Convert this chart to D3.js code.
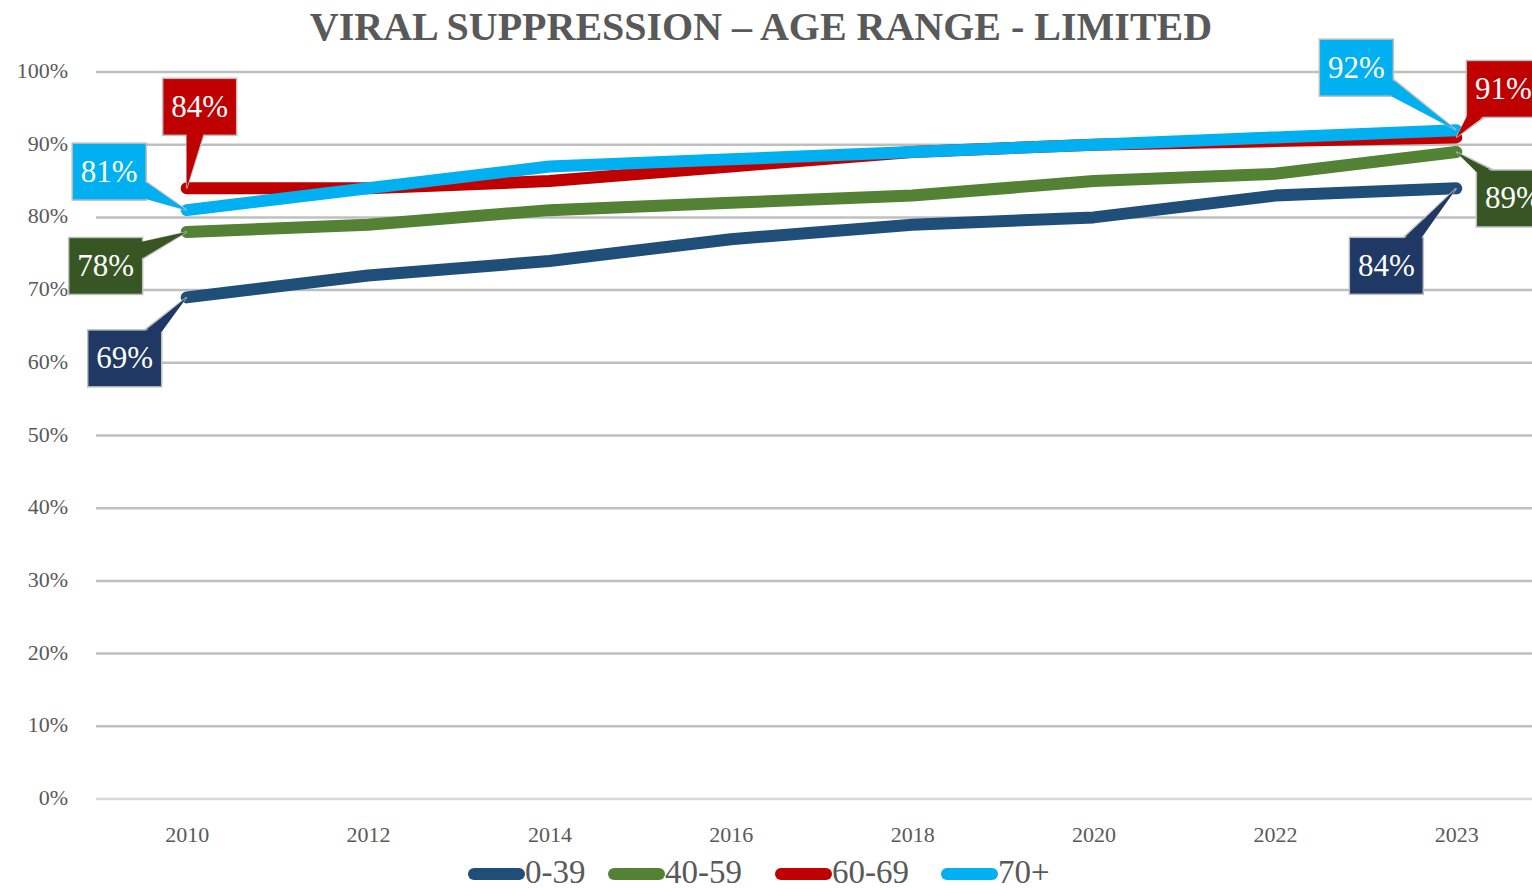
<!DOCTYPE html>
<html>
<head>
<meta charset="utf-8">
<script src="https://cdn.jsdelivr.net/npm/d3@7"></script>
<style>
  html, body { margin: 0; padding: 0; background: #fff; overflow: hidden; }
  svg { display: block; font-family: "Liberation Serif", "DejaVu Serif", serif; }
</style>
</head>
<body>
<div id="chart"></div>
<script>
// Chart data
const years = ["2010", "2012", "2014", "2016", "2018", "2020", "2022", "2023"];
const seriesNames = ["0-39", "40-59", "60-69", "70+"];
const age0to39 = [0.69, 0.72, 0.74, 0.77, 0.79, 0.80, 0.83, 0.84];
const age40to59 = [0.78, 0.79, 0.81, 0.82, 0.83, 0.85, 0.86, 0.89];
const age60to69 = [0.84, 0.84, 0.85, 0.87, 0.89, 0.90, 0.905, 0.91];
const age70plus = [0.81, 0.84, 0.87, 0.88, 0.89, 0.90, 0.91, 0.92];
const yTicks = [0, 0.1, 0.2, 0.3, 0.4, 0.5, 0.6, 0.7, 0.8, 0.9, 1.0];

const seriesValues = [age0to39, age40to59, age60to69, age70plus];

// Styling
const lineColors = ["#1F4E79", "#548235", "#C00000", "#00B0F0"];
const labelColors = ["#203864", "#375623", "#C00000", "#00B0F0"];
const textGray = "#595959";

// Label placement (box centre offset from the data point), first and last points only
const labelOffsets = [
    { first: [-62, 61], last: [-70, 77.5] },
    { first: [-81, 34], last: [57, 46.5] },
    { first: [13, -81.5], last: [47, -48.5] },
    { first: [-77.5, -38.5], last: [-100, -62.5] }
];

const width = 1532, height = 888;
const plot = { left: 96, right: 1547, top: 72, bottom: 799 };

const svg = d3.select("#chart").append("svg")
    .attr("width", width).attr("height", height);

const x = d3.scalePoint().domain(years).range([plot.left, plot.right]).padding(0.5);
const y = d3.scaleLinear().domain([0, 1]).range([plot.bottom, plot.top]);

// Title
svg.append("text")
    .attr("x", 761).attr("y", 40)
    .attr("text-anchor", "middle")
    .attr("fill", textGray)
    .attr("font-size", 40)
    .attr("font-weight", "bold")
    .text("VIRAL SUPPRESSION – AGE RANGE - LIMITED");

// Gridlines
svg.append("g").selectAll("line").data(yTicks).enter().append("line")
    .attr("x1", plot.left).attr("x2", width)
    .attr("y1", d => y(d)).attr("y2", d => y(d))
    .attr("stroke", d => d === 0 ? "#D9D9D9" : "#BFBFBF")
    .attr("stroke-width", 2.5);

// Y axis labels
const yAxis = d3.axisLeft(y).tickValues(yTicks).tickFormat(d3.format(".0%")).tickSize(0).tickPadding(0);
const yg = svg.append("g").attr("transform", "translate(68,0)").call(yAxis);
yg.select(".domain").remove();
yg.selectAll("text").attr("font-size", 22).attr("fill", textGray)
    .attr("font-family", "Liberation Serif, serif").attr("dy", "0.25em");

// X axis labels
const xAxis = d3.axisBottom(x).tickSize(0).tickPadding(0);
const xg = svg.append("g").attr("transform", "translate(0,842)").call(xAxis);
xg.select(".domain").remove();
xg.selectAll("text").attr("font-size", 22).attr("fill", textGray)
    .attr("font-family", "Liberation Serif, serif").attr("y", 0).attr("dy", 0);

// Lines
const line = d3.line().x((d, i) => x(years[i])).y(d => y(d));
svg.append("g").selectAll("path").data(seriesValues).enter().append("path")
    .attr("d", line)
    .attr("fill", "none")
    .attr("stroke", (d, i) => lineColors[i])
    .attr("stroke-width", 12)
    .attr("stroke-linecap", "round")
    .attr("stroke-linejoin", "round");

// Callout labels
const boxW = 74, boxH = 57, wedgeHalf = 8.5;

function wedgeBase(cx, cy, px, py, inset) {
    const dx = px - cx, dy = py - cy;
    const tx = Math.abs(dx) > 0 ? (boxW / 2) / Math.abs(dx) : Infinity;
    const ty = Math.abs(dy) > 0 ? (boxH / 2) / Math.abs(dy) : Infinity;
    if (tx < ty) {
        const ex = cx + Math.sign(dx) * (boxW / 2 - inset);
        let ey = cy + dy * tx;
        ey = Math.max(cy - boxH / 2 + wedgeHalf, Math.min(cy + boxH / 2 - wedgeHalf, ey));
        return [[ex, ey - wedgeHalf], [ex, ey + wedgeHalf]];
    } else {
        const ey = cy + Math.sign(dy) * (boxH / 2 - inset);
        let ex = cx + dx * ty;
        ex = Math.max(cx - boxW / 2 + wedgeHalf, Math.min(cx + boxW / 2 - wedgeHalf, ex));
        return [[ex - wedgeHalf, ey], [ex + wedgeHalf, ey]];
    }
}

const labels = [];
seriesValues.forEach((vals, i) => {
    [0, vals.length - 1].forEach(j => {
        const off = j === 0 ? labelOffsets[i].first : labelOffsets[i].last;
        const px = x(years[j]), py = y(vals[j]);
        labels.push({ series: i, value: vals[j], px, py, cx: px + off[0], cy: py + off[1] });
    });
});

const lg = svg.append("g").selectAll("g").data(labels).enter().append("g");
lg.each(function (d) {
    const g = d3.select(this);
    const base0 = wedgeBase(d.cx, d.cy, d.px, d.py, 0);
    const base1 = wedgeBase(d.cx, d.cy, d.px, d.py, 2);
    g.append("path")
        .attr("d", `M${base0[0]}L${d.px},${d.py}L${base0[1]}Z`)
        .attr("fill", labelColors[d.series])
        .attr("stroke", "#BFBFBF").attr("stroke-width", 1.5);
    g.append("rect")
        .attr("x", d.cx - boxW / 2).attr("y", d.cy - boxH / 2)
        .attr("width", boxW).attr("height", boxH)
        .attr("fill", labelColors[d.series])
        .attr("stroke", "#BFBFBF").attr("stroke-width", 1.5);
    g.append("path")
        .attr("d", `M${base1[0]}L${d.px},${d.py}L${base1[1]}Z`)
        .attr("fill", labelColors[d.series]);
    g.append("text")
        .attr("x", d.cx).attr("y", d.cy + 10)
        .attr("text-anchor", "middle")
        .attr("fill", "#fff")
        .attr("font-size", 31)
        .text(d3.format(".0%")(d.value));
});

// Legend
const legendX = [468, 608, 775, 941];
const legend = svg.append("g").selectAll("g").data(seriesNames).enter().append("g")
    .attr("transform", (d, i) => `translate(${legendX[i]},874)`);
legend.append("line")
    .attr("x1", 6).attr("x2", 51)
    .attr("stroke", (d, i) => lineColors[i])
    .attr("stroke-width", 12)
    .attr("stroke-linecap", "round");
legend.append("text")
    .attr("x", 57).attr("y", 9)
    .attr("fill", textGray)
    .attr("font-size", 33)
    .text(d => d);
</script>
</body>
</html>
